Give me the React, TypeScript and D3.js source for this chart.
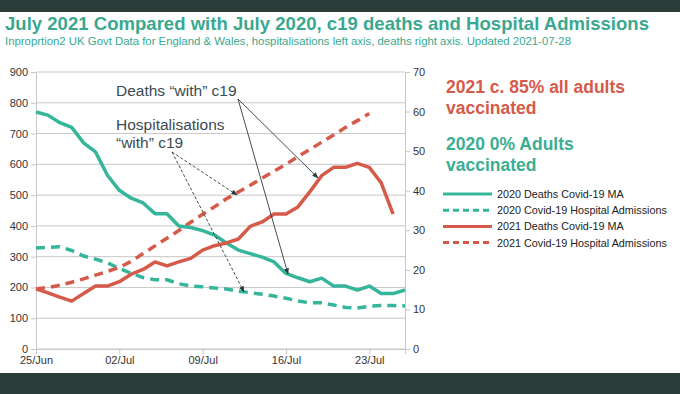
import React, { useEffect, useRef } from 'react';
import * as d3 from 'd3';

const W = 680;
const H = 394;

// days since 25 Jun
const start = new Date(2021, 5, 25);
const tickDays = [0, 7, 14, 21, 28];
const tickLabels = ['25/Jun', '02/Jul', '09/Jul', '16/Jul', '23/Jul'];

// right axis (deaths, 7-day MA)
const deaths2020 = [59.9, 59.1, 57.2, 56, 52.1, 49.8, 43.9, 40.1, 38.1, 36.9, 34.2, 34.2, 31.1, 30.7, 29.9, 28.8,
  26.8, 25, 24.1, 23.2, 22, 19.1, 18, 17, 17.9, 15.9, 15.9, 14.9, 15.9, 14, 14, 14.9];
const deaths2021 = [15.2, 14.2, 13.1, 12.1, 14, 15.9, 15.9, 17, 18.9, 20.1, 22, 21, 22, 22.9, 25, 26.1,
  26.8, 27.8, 31, 32.1, 34.1, 34.1, 35.9, 39.7, 43.8, 45.9, 45.9, 46.9, 45.9, 42, 34.1];
// left axis (hospital admissions)
const hosp2020 = [328, 330, 332, 320, 302, 292, 280, 262, 246, 232, 225, 225, 212, 205, 202, 198,
  195, 188, 183, 178, 172, 165, 156, 150, 150, 143, 135, 133, 139, 141, 141, 140];
const hosp2021 = [195, 200, 207, 217, 228, 240, 252, 265, 285, 310, 335, 360, 385, 412, 438, 462,
  488, 510, 532, 555, 578, 600, 625, 648, 672, 695, 720, 742, 765];

const leftTicks = [0, 100, 200, 300, 400, 500, 600, 700, 800, 900];
const rightTicks = [0, 10, 20, 30, 40, 50, 60, 70];

const TEAL = '#35b59a';
const RED = '#d65a4a';
const DARK = '#2c3d39';

const legendItems = [
  { label: '2020 Deaths Covid-19 MA', color: TEAL, dash: null },
  { label: '2020 Covid-19 Hospital Admissions', color: TEAL, dash: '6,4' },
  { label: '2021 Deaths Covid-19 MA', color: RED, dash: null },
  { label: '2021 Covid-19 Hospital Admissions', color: RED, dash: '6,4' },
];

export default function App() {
  const ref = useRef<SVGSVGElement>(null);

  useEffect(() => {
    if (!ref.current) return;
    const svg = d3.select(ref.current);
    svg.selectAll('*').remove();
    const font = '"Liberation Sans", Arial, sans-serif';

    const m = { left: 36, right: 405, top: 72, bottom: 349 };
    const x = d3.scaleTime()
      .domain([start, d3.timeDay.offset(start, 31)])
      .range([m.left, m.right]);
    const yL = d3.scaleLinear().domain([0, 900]).range([m.bottom, m.top]);
    const yR = d3.scaleLinear().domain([0, 70]).range([m.bottom, m.top]);
    const day = (i: number) => d3.timeDay.offset(start, i);

    svg.append('rect').attr('width', W).attr('height', H).attr('fill', '#fff');
    svg.append('rect').attr('width', W).attr('height', 12).attr('fill', DARK);
    svg.append('rect').attr('y', 373).attr('width', W).attr('height', H - 373).attr('fill', DARK);

    svg.append('text')
      .attr('x', 5).attr('y', 30)
      .attr('font-family', font).attr('font-weight', 'bold').attr('font-size', 18.5)
      .attr('textLength', 644).attr('lengthAdjust', 'spacingAndGlyphs')
      .attr('fill', '#3aa88f')
      .text('July 2021 Compared with July 2020, c19 deaths and Hospital Admissions');
    svg.append('text')
      .attr('x', 5).attr('y', 45)
      .attr('font-family', font).attr('font-size', 11.3)
      .attr('textLength', 566).attr('lengthAdjust', 'spacingAndGlyphs')
      .attr('fill', '#3aa88f')
      .text('Inproprtion2 UK Govt Data for England & Wales, hospitalisations left axis, deaths right axis. Updated 2021-07-28');

    // gridlines
    svg.append('g').selectAll('line').data(leftTicks).join('line')
      .attr('x1', m.left).attr('x2', m.right)
      .attr('y1', d => yL(d)).attr('y2', d => yL(d))
      .attr('stroke', '#c8c8c8').attr('stroke-width', 1);

    // left axis
    const gl = svg.append('g').attr('transform', `translate(${m.left},0)`)
      .call(d3.axisLeft(yL).tickValues(leftTicks).tickSize(5).tickPadding(3));
    gl.select('.domain').attr('stroke', '#c8c8c8');
    gl.selectAll('line').attr('stroke', '#c8c8c8');
    gl.selectAll('text').attr('font-family', font).attr('font-size', 11).attr('fill', '#333');

    // right axis
    const gr = svg.append('g').attr('transform', `translate(${m.right},0)`)
      .call(d3.axisRight(yR).tickValues(rightTicks).tickSize(5).tickPadding(3));
    gr.select('.domain').attr('stroke', '#c8c8c8');
    gr.selectAll('line').attr('stroke', '#c8c8c8');
    gr.selectAll('text').attr('font-family', font).attr('font-size', 11).attr('fill', '#333');

    // bottom axis
    const gb = svg.append('g').attr('transform', `translate(0,${m.bottom})`)
      .call(d3.axisBottom(x).tickValues(tickDays.map(day)).tickFormat((_, i) => tickLabels[i]).tickSize(5).tickPadding(2));
    gb.select('.domain').attr('stroke', '#c8c8c8');
    gb.selectAll('line').attr('stroke', '#c8c8c8');
    gb.selectAll('text').attr('font-family', font).attr('font-size', 11).attr('fill', '#333');

    const lineL = d3.line<number>().x((_, i) => x(day(i))).y(d => yL(d));
    const lineR = d3.line<number>().x((_, i) => x(day(i))).y(d => yR(d));

    const series = [
      { data: hosp2020, gen: lineL, color: TEAL, dash: '9,6' },
      { data: hosp2021, gen: lineL, color: RED, dash: '9,6' },
      { data: deaths2020, gen: lineR, color: TEAL, dash: null },
      { data: deaths2021, gen: lineR, color: RED, dash: null },
    ];
    series.forEach(s => {
      svg.append('path')
        .datum(s.data)
        .attr('fill', 'none')
        .attr('stroke', s.color)
        .attr('stroke-width', 3.5)
        .attr('stroke-linejoin', 'round')
        .attr('stroke-dasharray', s.dash)
        .attr('d', s.gen);
    });

    // annotations
    const defs = svg.append('defs');
    defs.append('marker').attr('id', 'arr')
      .attr('viewBox', '0 0 10 10').attr('refX', 9).attr('refY', 5)
      .attr('markerWidth', 7).attr('markerHeight', 7).attr('orient', 'auto')
      .append('path').attr('d', 'M0,1 L10,5 L0,9 z').attr('fill', '#2b3a40');

    const annText = (t: string, ax: number, ay: number) =>
      svg.append('text').attr('x', ax).attr('y', ay)
        .attr('font-family', font).attr('font-size', 15.5).attr('fill', '#3c4a52').text(t);
    annText('Deaths \u201cwith\u201d c19', 116, 96);
    annText('Hospitalisations', 116, 130);
    annText('\u201cwith\u201d c19', 116, 148);

    const arrows = [
      { x1: 238, y1: 99, x2: 318, y2: 178, dash: null },
      { x1: 238, y1: 99, x2: 288, y2: 274, dash: null },
      { x1: 172, y1: 152, x2: 237, y2: 195, dash: '3,2' },
      { x1: 172, y1: 152, x2: 244, y2: 292, dash: '3,2' },
    ];
    svg.append('g').selectAll('line').data(arrows).join('line')
      .attr('x1', d => d.x1).attr('y1', d => d.y1)
      .attr('x2', d => d.x2).attr('y2', d => d.y2)
      .attr('stroke', '#2b3a40').attr('stroke-width', 0.9)
      .attr('stroke-dasharray', d => d.dash)
      .attr('marker-end', 'url(#arr)');

    const bigText = (t: string, ty: number, c: string) =>
      svg.append('text').attr('x', 446).attr('y', ty)
        .attr('font-family', font).attr('font-weight', 'bold').attr('font-size', 17.5).attr('fill', c).text(t);
    bigText('2021 c. 85% all adults', 93, RED);
    bigText('vaccinated', 114, RED);
    bigText('2020 0% Adults', 150, '#3aae94');
    bigText('vaccinated', 171, '#3aae94');

    // legend
    const lg = svg.append('g');
    legendItems.forEach((d, i) => {
      const ly = 194 + i * 16.2;
      lg.append('line')
        .attr('x1', 443).attr('x2', 492).attr('y1', ly).attr('y2', ly)
        .attr('stroke', d.color).attr('stroke-width', 3)
        .attr('stroke-dasharray', d.dash);
      lg.append('text').attr('x', 497).attr('y', ly + 4)
        .attr('font-family', font).attr('font-size', 10.8).attr('fill', '#222').text(d.label);
    });
  }, []);

  return (
    <div style={{ position: 'fixed', left: 0, top: 0 }}>
      <svg ref={ref} width={W} height={H} />
    </div>
  );
}
